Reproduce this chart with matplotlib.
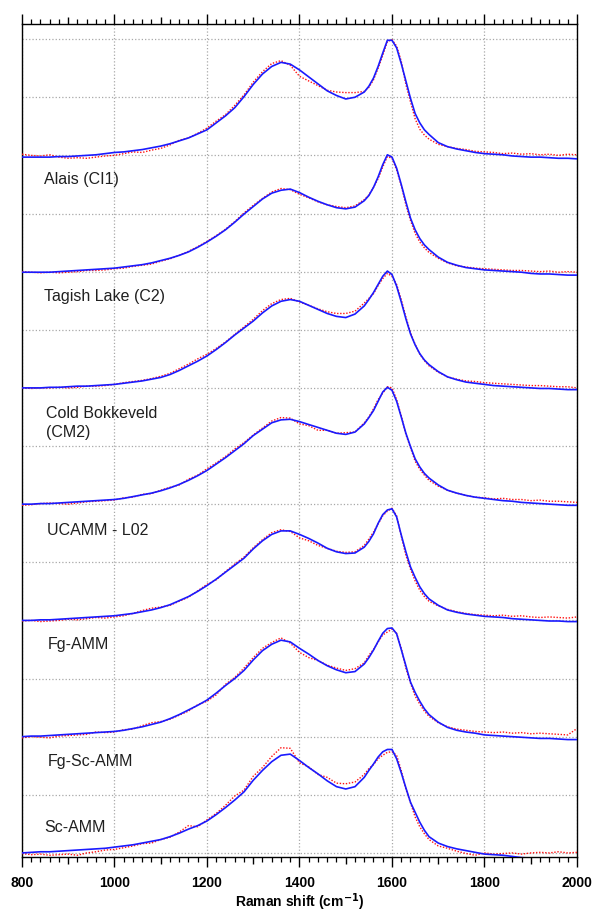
import matplotlib
matplotlib.use("Agg")
import matplotlib.pyplot as plt
import numpy as np
from matplotlib.ticker import FixedLocator

plt.rcParams['font.family'] = ['Liberation Sans', 'DejaVu Sans']

# Raman shift grid (cm^-1): finer sampling across the G band
shift = list(range(800, 1541, 20)) + list(range(1550, 1671, 10)) + list(range(1680, 2001, 20))

# Sample names (top to bottom)
names = ["Alais (CI1)", "Tagish Lake (C2)", "Cold Bokkeveld\n(CM2)", "UCAMM - L02",
         "Fg-AMM", "Fg-Sc-AMM", "Sc-AMM"]

# Fitted curves (normalised intensity, blue) and measured spectra (red)
alais_fit = [-0.03,-0.03,-0.03,-0.03,-0.02,-0.02,-0.01,0.00,0.01,0.03,0.05,0.06,0.08,0.10,0.13,0.16,0.20,0.25,0.30,0.37,
             0.44,0.56,0.68,0.82,1.01,1.22,1.40,1.53,1.60,1.57,1.47,1.35,1.23,1.11,1.03,0.97,1.00,1.09,
             1.19,1.33,1.53,1.76,1.98,1.98,1.85,1.58,1.28,0.98,0.72,0.56,0.44,
             0.36,0.22,0.15,0.11,0.08,0.05,0.03,0.02,0.01,-0.01,-0.02,-0.03,-0.03,-0.04,-0.05,-0.05,-0.06]
alais_data = [0.02,0.00,-0.01,0.01,-0.03,-0.05,-0.04,-0.05,-0.03,-0.01,0.00,0.03,0.06,0.05,0.09,0.12,0.18,0.26,0.30,0.38,
              0.47,0.59,0.70,0.86,1.04,1.26,1.44,1.58,1.63,1.55,1.36,1.28,1.20,1.12,1.09,1.08,1.08,1.10,
              1.17,1.30,1.50,1.72,1.96,1.99,1.88,1.62,1.22,0.92,0.63,0.45,0.35,
              0.28,0.19,0.15,0.12,0.10,0.07,0.06,0.05,0.03,0.04,0.02,0.03,0.01,0.02,0.00,0.02,0.01]

tagish_fit = [-0.01,-0.01,-0.01,-0.01,0.00,0.01,0.02,0.03,0.04,0.05,0.06,0.08,0.10,0.12,0.15,0.19,0.23,0.28,0.34,0.42,
              0.51,0.61,0.72,0.85,0.99,1.12,1.25,1.35,1.40,1.42,1.36,1.28,1.21,1.15,1.10,1.08,1.11,1.22,
              1.31,1.45,1.63,1.84,2.01,1.97,1.78,1.50,1.20,0.92,0.72,0.57,0.46,
              0.38,0.25,0.16,0.11,0.07,0.05,0.03,0.02,0.01,0.00,-0.01,-0.03,-0.04,-0.04,-0.05,-0.06,-0.06]
tagish_data = [0.00,-0.01,-0.02,-0.01,-0.02,-0.01,0.00,0.02,0.02,0.03,0.05,0.06,0.09,0.11,0.13,0.18,0.22,0.28,0.35,0.43,
               0.52,0.62,0.73,0.86,1.01,1.14,1.26,1.37,1.43,1.41,1.33,1.27,1.20,1.15,1.12,1.10,1.13,1.24,
               1.32,1.45,1.60,1.80,1.98,1.95,1.75,1.48,1.15,0.88,0.66,0.51,0.41,
               0.33,0.23,0.15,0.10,0.08,0.06,0.05,0.04,0.03,0.02,0.02,0.01,0.00,0.01,-0.01,0.00,-0.01]

coldb_fit = [0.00,0.00,0.00,0.01,0.01,0.02,0.03,0.03,0.04,0.05,0.06,0.08,0.10,0.12,0.15,0.18,0.23,0.30,0.38,0.46,
             0.55,0.66,0.78,0.91,1.03,1.15,1.29,1.41,1.49,1.52,1.49,1.42,1.35,1.28,1.23,1.21,1.27,1.41,
             1.52,1.64,1.78,1.92,2.01,1.95,1.75,1.48,1.19,0.93,0.74,0.59,0.48,
             0.40,0.28,0.19,0.14,0.10,0.08,0.06,0.04,0.03,0.02,0.01,0.00,-0.01,-0.01,-0.02,-0.03,-0.03]
coldb_data = [0.00,-0.01,0.00,0.00,0.01,0.00,0.01,0.03,0.03,0.04,0.06,0.09,0.11,0.13,0.16,0.20,0.25,0.33,0.41,0.50,
              0.58,0.68,0.79,0.92,1.05,1.18,1.33,1.45,1.52,1.54,1.48,1.42,1.36,1.31,1.28,1.28,1.32,1.46,
              1.54,1.62,1.76,1.88,1.97,1.92,1.78,1.52,1.22,0.95,0.75,0.58,0.47,
              0.38,0.27,0.19,0.15,0.12,0.11,0.09,0.08,0.07,0.06,0.05,0.04,0.04,0.03,0.02,0.02,0.00]

ucamm_fit = [0.00,0.00,0.01,0.01,0.02,0.03,0.04,0.05,0.06,0.07,0.08,0.10,0.13,0.16,0.19,0.23,0.28,0.34,0.41,0.49,
             0.58,0.69,0.80,0.92,1.04,1.18,1.29,1.40,1.45,1.46,1.42,1.37,1.32,1.27,1.22,1.20,1.24,1.38,
             1.49,1.61,1.77,1.93,2.01,1.96,1.77,1.50,1.22,0.99,0.78,0.64,0.53,
             0.45,0.33,0.24,0.19,0.15,0.12,0.10,0.08,0.06,0.05,0.03,0.02,0.01,0.00,-0.01,-0.02,-0.02]
ucamm_data = [-0.02,-0.01,0.01,0.02,0.01,0.00,0.02,0.04,0.05,0.06,0.07,0.11,0.12,0.17,0.18,0.24,0.29,0.33,0.43,0.50,
              0.61,0.71,0.82,0.95,1.06,1.19,1.31,1.43,1.49,1.48,1.38,1.35,1.27,1.27,1.22,1.23,1.24,1.40,
              1.50,1.64,1.80,1.91,2.02,2.00,1.80,1.52,1.20,0.97,0.74,0.60,0.50,
              0.41,0.31,0.24,0.19,0.15,0.12,0.11,0.09,0.10,0.08,0.08,0.06,0.07,0.05,0.05,0.04,0.03]

fg_fit = [0.00,0.00,0.01,0.01,0.02,0.03,0.04,0.05,0.06,0.07,0.08,0.10,0.12,0.15,0.18,0.22,0.27,0.34,0.41,0.50,
          0.60,0.71,0.83,0.95,1.07,1.23,1.37,1.48,1.54,1.54,1.48,1.41,1.33,1.24,1.18,1.15,1.16,1.26,
          1.36,1.49,1.67,1.82,1.90,1.92,1.78,1.47,1.18,0.92,0.74,0.58,0.46,
          0.37,0.26,0.18,0.14,0.11,0.09,0.07,0.06,0.05,0.03,0.02,0.01,0.00,-0.01,-0.01,-0.02,-0.02]
fg_data = [-0.01,0.00,-0.02,-0.01,0.00,0.02,0.01,0.03,0.05,0.04,0.06,0.08,0.12,0.17,0.21,0.23,0.26,0.33,0.40,0.51,
           0.62,0.70,0.84,0.97,1.09,1.25,1.39,1.51,1.56,1.53,1.42,1.37,1.29,1.24,1.19,1.17,1.18,1.29,
           1.40,1.52,1.66,1.80,1.88,1.93,1.80,1.45,1.12,0.88,0.68,0.52,0.41,
           0.33,0.25,0.19,0.15,0.12,0.10,0.09,0.08,0.09,0.07,0.08,0.06,0.05,0.06,0.05,0.04,0.06]

fgsc_fit = [0.00,0.01,0.01,0.02,0.03,0.04,0.05,0.06,0.07,0.08,0.09,0.11,0.14,0.17,0.21,0.25,0.31,0.38,0.46,0.54,
            0.63,0.75,0.88,1.00,1.14,1.32,1.48,1.59,1.66,1.63,1.52,1.42,1.31,1.22,1.15,1.10,1.12,1.25,
            1.36,1.49,1.64,1.78,1.86,1.87,1.77,1.50,1.22,0.94,0.76,0.61,0.48,
            0.38,0.25,0.16,0.11,0.08,0.06,0.03,0.02,0.01,0.00,-0.01,-0.02,-0.03,-0.03,-0.04,-0.05,-0.05]
fgsc_data = [-0.02,0.00,-0.01,-0.02,0.01,0.02,0.03,0.04,0.08,0.07,0.08,0.12,0.13,0.19,0.24,0.26,0.30,0.37,0.44,0.55,
             0.61,0.72,0.90,1.02,1.18,1.36,1.52,1.62,1.70,1.61,1.45,1.36,1.31,1.23,1.18,1.14,1.17,1.27,
             1.40,1.50,1.63,1.75,1.80,1.85,1.78,1.52,1.18,0.92,0.70,0.56,0.44,
             0.35,0.24,0.17,0.13,0.11,0.09,0.08,0.07,0.08,0.06,0.07,0.05,0.06,0.05,0.04,0.03,0.14]

sc_fit = [0.00,0.01,0.02,0.02,0.03,0.04,0.05,0.06,0.07,0.08,0.10,0.12,0.14,0.17,0.20,0.23,0.28,0.34,0.41,0.47,
          0.55,0.66,0.78,0.91,1.05,1.25,1.42,1.57,1.68,1.70,1.59,1.47,1.36,1.24,1.14,1.10,1.14,1.30,
          1.42,1.53,1.65,1.74,1.78,1.78,1.62,1.38,1.12,0.87,0.70,0.53,0.39,
          0.28,0.17,0.11,0.07,0.04,0.01,-0.02,-0.03,-0.04,-0.06,-0.08,-0.09,-0.10,-0.11,-0.12,-0.12,-0.13]
sc_data = [-0.01,-0.03,-0.02,-0.04,-0.03,-0.02,-0.04,0.00,0.02,0.05,0.06,0.09,0.12,0.16,0.17,0.23,0.27,0.36,0.47,0.45,
           0.57,0.68,0.82,0.98,1.08,1.32,1.47,1.66,1.81,1.80,1.55,1.48,1.35,1.30,1.20,1.19,1.22,1.35,
           1.45,1.52,1.62,1.68,1.73,1.74,1.68,1.42,1.10,0.86,0.62,0.45,0.33,
           0.23,0.12,0.08,0.03,-0.01,-0.04,0.00,-0.02,-0.01,0.00,-0.02,0.00,0.01,0.00,0.02,0.00,0.01]

fits = [alais_fit, tagish_fit, coldb_fit, ucamm_fit, fg_fit, fgsc_fit, sc_fit]
datas = [alais_data, tagish_data, coldb_data, ucamm_data, fg_data, fgsc_data, sc_data]

x_ticks = [800, 1000, 1200, 1400, 1600, 1800, 2000]

fig = plt.figure(figsize=(5.94, 9.15), dpi=100)
ax = fig.add_axes([22/594, 1 - 857/915, 555/594, 833/915])

# label placement relative to each spectrum's baseline (layout only)
label_dy = [-0.42, -0.42, -0.60, -0.45, -0.42, -0.42, 0.43]
label_x = [848, 848, 852, 855, 855, 855, 848]

n = len(names)
for i, (name, fit, dat) in enumerate(zip(names, fits, datas)):
    off = 2 * (n - 1 - i)
    ax.plot(shift, np.array(dat) + off, color='#ff1010', lw=1.0,
            linestyle=(0, (1, 1.2)), zorder=3)
    ax.plot(shift, np.array(fit) + off, color='#1a1aff', lw=1.2, zorder=4)
    ax.text(label_x[i], off + label_dy[i], name, fontsize=11.5, ha='left', va='center',
            color='#202020', linespacing=1.35)

ax.set_xlim(800, 2000)
ax.set_ylim(-0.07, 14.26)

ax.set_xticks(x_ticks)
ax.set_xticklabels([str(t) for t in x_ticks], fontweight='bold', fontsize=10)
ax.xaxis.set_minor_locator(FixedLocator([v for v in range(800, 2001, 20) if v % 100 != 0]))
ax.tick_params(axis='x', which='major', length=7, width=1, direction='out',
               top=True, bottom=True, pad=7)
ax.tick_params(axis='x', which='minor', length=3.3, width=0.9, direction='out',
               top=True, bottom=True)

# medium ticks at odd hundreds
for loc in ('top', 'bottom'):
    sec = ax.secondary_xaxis(loc)
    sec.set_xticks([900, 1100, 1300, 1500, 1700, 1900])
    sec.tick_params(length=4.8, width=1, direction='out', labelbottom=False,
                    labeltop=False)
    sec.spines[loc].set_visible(False)

ax.set_yticks(range(0, 15))
ax.tick_params(axis='y', length=0, labelleft=False)

ax.grid(True, which='major', color='#a8a8a8', linestyle=':', linewidth=0.9)
ax.set_axisbelow(True)

for s in ax.spines.values():
    s.set_linewidth(1.0)
    s.set_color('black')

ax.set_xlabel('Raman shift (cm$^{\\mathbf{-1}}$)', fontweight='bold', fontsize=10, labelpad=1)

fig.savefig('out.png', dpi=100)
